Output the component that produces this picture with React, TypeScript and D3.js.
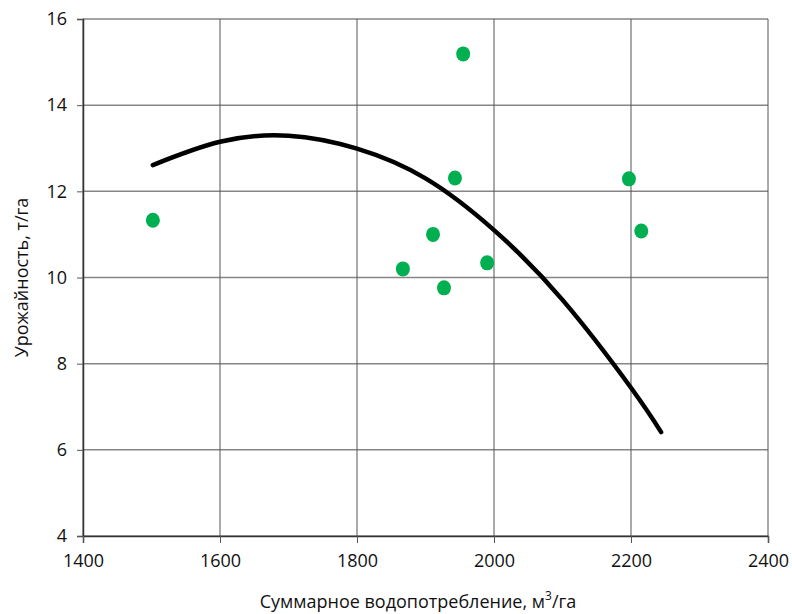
import React, { useEffect, useRef } from "react";
import * as d3 from "d3";

// measured points (водопотребление, урожайность)
const waterUse = [1502, 1867, 1911, 1927, 1943, 1955, 1990, 2197, 2215];
const yieldVals = [11.33, 10.2, 11.0, 9.76, 12.31, 15.19, 10.34, 12.29, 11.08];

// trend curve
const trendX = [1502, 1600, 1700, 1800, 1900, 2000, 2100, 2200, 2244];
const trendY = [12.61, 13.15, 13.29, 12.99, 12.3, 11.1, 9.48, 7.44, 6.41];

const xTicks = [1400, 1600, 1800, 2000, 2200, 2400];
const yTicks = [4, 6, 8, 10, 12, 14, 16];

const App = () => {
  const svgRef = useRef<SVGSVGElement>(null);

  useEffect(() => {
    const svg = d3.select(svgRef.current);
    svg.selectAll("*").remove();

    const left = 83, right = 768, top = 19, bottom = 536;
    const font = "'Open Sans', sans-serif";

    const x = d3.scaleLinear().domain([1400, 2400]).range([left, right]);
    const y = d3.scaleLinear().domain([4, 16]).range([bottom, top]);

    // grid
    svg
      .append("g")
      .selectAll("line")
      .data(yTicks)
      .join("line")
      .attr("x1", left)
      .attr("x2", right)
      .attr("y1", (d) => y(d))
      .attr("y2", (d) => y(d))
      .attr("stroke", "#868686")
      .attr("stroke-width", 1.5);

    svg
      .append("g")
      .selectAll("line")
      .data(xTicks)
      .join("line")
      .attr("x1", (d) => x(d))
      .attr("x2", (d) => x(d))
      .attr("y1", top)
      .attr("y2", bottom)
      .attr("stroke", "#555")
      .attr("stroke-width", 1);

    // axes
    const yAxis = d3.axisLeft(y).tickValues(yTicks).tickSize(6).tickPadding(10);
    const gy = svg.append("g").attr("transform", `translate(${left},0)`).call(yAxis);
    const xAxis = d3.axisBottom(x).tickValues(xTicks).tickFormat(d3.format("d")).tickSize(7).tickPadding(11);
    const gx = svg.append("g").attr("transform", `translate(0,${bottom})`).call(xAxis);

    [gx, gy].forEach((g) => {
      g.selectAll("path").attr("stroke", "#333").attr("stroke-width", 1.5);
      g.selectAll("line").attr("stroke", "#555");
      g.selectAll("text")
        .attr("font-family", font)
        .attr("font-size", 18)
        .attr("fill", "#111");
    });

    // trend line
    const line = d3
      .line<number>()
      .x((d, i) => x(trendX[i]))
      .y((d) => y(d))
      .curve(d3.curveNatural);
    svg
      .append("path")
      .attr("d", line(trendY))
      .attr("fill", "none")
      .attr("stroke", "#000")
      .attr("stroke-width", 4.5)
      .attr("stroke-linecap", "round");

    // points
    svg
      .append("g")
      .selectAll("ellipse")
      .data(waterUse)
      .join("ellipse")
      .attr("cx", (d) => x(d))
      .attr("cy", (d, i) => y(yieldVals[i]))
      .attr("rx", 7)
      .attr("ry", 7.5)
      .attr("fill", "#00B050");

    // titles
    svg
      .append("text")
      .attr("transform", `translate(28,${(top + bottom) / 2}) rotate(-90)`)
      .attr("text-anchor", "middle")
      .attr("font-family", font)
      .attr("font-size", 18)
      .attr("fill", "#111")
      .text("Урожайность, т/га");

    const xt = svg
      .append("text")
      .attr("x", 418)
      .attr("y", 608)
      .attr("text-anchor", "middle")
      .attr("font-family", font)
      .attr("font-size", 18)
      .attr("fill", "#111");
    xt.append("tspan").text("Суммарное водопотребление, м");
    xt.append("tspan").attr("font-size", 12).attr("dy", -8).text("3");
    xt.append("tspan").attr("dy", 8).text("/га");
  }, []);

  return (
    <svg
      ref={svgRef}
      width={792}
      height={614}
      style={{ position: "absolute", left: 0, top: 0, background: "#fff" }}
    />
  );
};

export default App;
